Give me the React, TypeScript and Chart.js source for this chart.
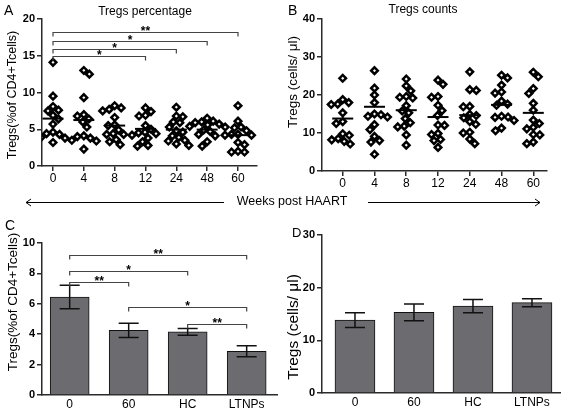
import React, { useEffect, useRef } from 'react';
import { Chart, registerables } from 'chart.js';
Chart.register(...registerables);

const FONT = "'Liberation Sans', Arial, sans-serif";
Chart.defaults.font.family = FONT;

// ---------- data ----------
const weekLabels = ['0', '4', '8', '12', '24', '48', '60'];

const pctW0 = [14.1, 9.5, 8.1, 7.6, 7.5, 6.9, 6.4, 5.7, 4.6, 4.4, 4.3, 3.9, 3.8, 3.2];
const pctW4 = [13.0, 12.5, 9.3, 7.0, 6.8, 6.4, 6.0, 5.3, 4.1, 4.0, 3.8, 3.5, 3.4, 2.3];
const pctW8 = [8.2, 7.9, 7.7, 7.5, 6.6, 5.6, 5.5, 4.9, 4.4, 4.3, 4.3, 3.6, 3.3, 2.9];
const pctW12 = [7.9, 7.4, 6.9, 6.8, 5.5, 5.0, 4.6, 4.5, 4.4, 4.2, 3.8, 3.3, 2.8, 2.7];
const pctW24 = [8.0, 6.8, 6.7, 6.0, 5.9, 5.3, 4.8, 4.6, 4.1, 3.9, 3.5, 3.4, 3.0, 2.8];
const pctW48 = [6.5, 6.1, 6.0, 5.9, 5.7, 5.6, 5.4, 5.3, 4.9, 4.7, 4.3, 4.1, 3.3, 2.7];
const pctW60 = [8.2, 6.1, 5.3, 5.2, 4.8, 4.3, 4.3, 4.2, 4.2, 3.2, 2.9, 2.0, 1.9, 1.9];
const pctMeans = [6.45, 6.25, 5.5, 5.05, 4.95, 4.95, 4.2];

const cntW0 = [24.4, 18.8, 18.0, 17.6, 17.5, 15.3, 13.0, 12.5, 9.8, 9.4, 8.5, 8.2, 7.8, 7.1];
const cntW4 = [26.4, 21.8, 20.0, 18.0, 15.0, 14.8, 14.4, 14.2, 12.2, 10.9, 9.1, 8.0, 7.6, 4.4];
const cntW8 = [24.2, 22.4, 21.1, 19.6, 19.4, 19.2, 17.2, 15.8, 15.3, 13.8, 12.7, 11.8, 11.6, 9.5, 6.8];
const cntW12 = [23.9, 22.8, 19.6, 19.4, 17.3, 15.9, 14.6, 12.1, 12.0, 9.9, 9.6, 8.3, 8.0, 6.2];
const cntW24 = [26.1, 21.4, 21.2, 17.0, 16.9, 14.9, 14.6, 14.0, 13.0, 12.3, 10.2, 10.0, 8.4, 7.2];
const cntW48 = [25.2, 24.5, 22.6, 20.8, 20.5, 18.4, 17.6, 17.3, 14.4, 14.2, 14.1, 13.3, 11.3, 10.6];
const cntW60 = [26.0, 24.8, 21.7, 20.4, 17.8, 16.0, 13.4, 12.5, 11.5, 11.1, 9.6, 9.5, 7.6, 7.2];
const cntMeans = [13.8, 16.9, 16.0, 14.2, 14.7, 17.4, 15.3];

const groupLabels = ['0', '60', 'HC', 'LTNPs'];
const pctBarMeans = [6.45, 4.25, 4.15, 2.88];
const pctBarErr = [0.77, 0.47, 0.22, 0.36];
const cntBarMeans = [13.85, 15.3, 16.5, 17.15];
const cntBarErr = [1.4, 1.6, 1.25, 0.75];

type Bracket = { from: number; to: number; y: number; label: string };
const pctSig: Bracket[] = [
  { from: 0, to: 6, y: 18.2, label: '**' },
  { from: 0, to: 5, y: 17.05, label: '*' },
  { from: 0, to: 4, y: 15.9, label: '*' },
  { from: 0, to: 3, y: 14.9, label: '*' },
];
const barSig: Bracket[] = [
  { from: 0, to: 3, y: 9.2, label: '**' },
  { from: 0, to: 2, y: 8.18, label: '*' },
  { from: 0, to: 1, y: 7.45, label: '**' },
  { from: 1, to: 3, y: 5.8, label: '*' },
  { from: 2, to: 3, y: 4.65, label: '**' },
];

const pctGroups = [pctW0, pctW4, pctW8, pctW12, pctW24, pctW48, pctW60];
const cntGroups = [cntW0, cntW4, cntW8, cntW12, cntW24, cntW48, cntW60];

// ---------- helpers ----------
const AXIS = '#2a2a2a';

const makeBracketPlugin = (items: Bracket[]) => ({
  id: 'sigBrackets',
  afterDatasetsDraw(chart: any) {
    const { ctx } = chart;
    const xs = chart.scales.x;
    const ys = chart.scales.y;
    ctx.save();
    ctx.strokeStyle = '#444';
    ctx.lineWidth = 1.2;
    ctx.fillStyle = '#000';
    ctx.font = `bold 12px ${FONT}`;
    ctx.textAlign = 'center';
    ctx.textBaseline = 'alphabetic';
    items.forEach((b) => {
      const x1 = xs.getPixelForValue(b.from);
      const x2 = xs.getPixelForValue(b.to);
      const y = Math.round(ys.getPixelForValue(b.y)) + 0.5;
      ctx.beginPath();
      ctx.moveTo(x1, y + 4);
      ctx.lineTo(x1, y);
      ctx.lineTo(x2, y);
      ctx.lineTo(x2, y + 4);
      ctx.stroke();
      ctx.fillText(b.label, (x1 + x2) / 2, y + 2);
    });
    ctx.restore();
  },
});

const makeErrorPlugin = (means: number[], errs: number[]) => ({
  id: 'errBars',
  afterDatasetsDraw(chart: any) {
    const { ctx } = chart;
    const xs = chart.scales.x;
    const ys = chart.scales.y;
    ctx.save();
    ctx.strokeStyle = '#111';
    ctx.lineWidth = 1.5;
    means.forEach((m, i) => {
      const x = xs.getPixelForValue(i);
      const yt = ys.getPixelForValue(m + errs[i]);
      const yb = ys.getPixelForValue(m - errs[i]);
      ctx.beginPath();
      ctx.moveTo(x, yt);
      ctx.lineTo(x, yb);
      ctx.moveTo(x - 10, yt);
      ctx.lineTo(x + 10, yt);
      ctx.moveTo(x - 10, yb);
      ctx.lineTo(x + 10, yb);
      ctx.stroke();
    });
    ctx.restore();
  },
});

// simple beeswarm layout: horizontal pixel offsets so markers do not overlap
const swarm = (ypx: number[], minDist: number): number[] => {
  const placed: { x: number; y: number }[] = [];
  let side = 1;
  return ypx.map((y) => {
    let best = 0;
    for (let step = 0; step < 400; step++) {
      const k = Math.ceil(step / 2) * 0.5;
      const cand = step === 0 ? 0 : (step % 2 ? k : -k) * side;
      if (placed.every((p) => Math.hypot(p.x - cand, p.y - y) >= minDist)) {
        best = cand;
        break;
      }
    }
    if (best !== 0) side = -side;
    placed.push({ x: best, y });
    return best;
  });
};

const axisGrid = { drawOnChartArea: false, drawTicks: true, tickLength: 5, color: AXIS, lineWidth: 1.5 };
const axisBorder = { color: AXIS, width: 1.5 };

function scatterChart(
  canvas: HTMLCanvasElement,
  groups: number[][],
  means: number[],
  xmin: number,
  xmax: number,
  ymax: number,
  ystep: number,
  padRight: number,
  xHeight: number,
  brackets: Bracket[] | null
) {
  const chart = new Chart(canvas, {
    type: 'scatter',
    data: {
      datasets: [
        {
          data: means.map((m, i) => ({ x: i, y: m })),
          pointStyle: 'line',
          pointRadius: 10.5,
          borderColor: '#000',
          backgroundColor: '#000',
          borderWidth: 2,
        } as any,
        {
          data: groups.flatMap((g, i) => g.map((v) => ({ x: i, y: v }))),
          pointStyle: 'rectRot',
          pointRadius: 3.3,
          borderColor: '#000',
          backgroundColor: '#fff',
          borderWidth: 2.5,
        } as any,
      ],
    },
    options: {
      responsive: false,
      animation: false,
      events: [],
      layout: { padding: { top: 19, right: padRight, left: 0, bottom: 0 } },
      plugins: { legend: { display: false }, tooltip: { enabled: false } },
      scales: {
        x: {
          type: 'linear',
          min: xmin,
          max: xmax,
          afterBuildTicks: (s: any) => {
            s.ticks = weekLabels.map((_, i) => ({ value: i }));
          },
          afterFit: (s: any) => {
            s.height = xHeight;
          },
          ticks: {
            callback: (v: any) => weekLabels[v] ?? '',
            font: { size: 12 },
            color: '#000',
            padding: 0,
            maxRotation: 0,
            autoSkip: false,
          },
          grid: axisGrid,
          border: axisBorder,
        },
        y: {
          min: 0,
          max: ymax,
          afterFit: (s: any) => {
            s.width = 42;
          },
          ticks: { stepSize: ystep, font: { size: 11, weight: 'bold' }, color: '#000', padding: 2 },
          grid: axisGrid,
          border: axisBorder,
        },
      },
    } as any,
    plugins: brackets ? [makeBracketPlugin(brackets)] : [],
  });
  const xs: any = chart.scales.x;
  const ys: any = chart.scales.y;
  const pxPerX = xs.getPixelForValue(1) - xs.getPixelForValue(0);
  const pts: { x: number; y: number }[] = [];
  groups.forEach((g, i) => {
    const offs = swarm(
      g.map((v) => ys.getPixelForValue(v)),
      6.5
    );
    g.forEach((v, k) => pts.push({ x: i + offs[k] / pxPerX, y: v }));
  });
  (chart.data.datasets[1] as any).data = pts;
  chart.update('none');
  return chart;
}

function barChart(
  canvas: HTMLCanvasElement,
  means: number[],
  errs: number[],
  xmin: number,
  xmax: number,
  ymax: number,
  ystep: number,
  padTop: number,
  padRight: number,
  xHeight: number,
  thickness: number,
  brackets: Bracket[] | null
) {
  const plugins: any[] = [makeErrorPlugin(means, errs)];
  if (brackets) plugins.push(makeBracketPlugin(brackets));
  return new Chart(canvas, {
    type: 'bar',
    data: {
      datasets: [
        {
          data: means.map((m, i) => ({ x: i, y: m })),
          backgroundColor: '#6c6c70',
          borderColor: '#111',
          borderWidth: 1,
          barThickness: thickness,
        } as any,
      ],
    },
    options: {
      responsive: false,
      animation: false,
      events: [],
      layout: { padding: { top: padTop, right: padRight, left: 0, bottom: 0 } },
      plugins: { legend: { display: false }, tooltip: { enabled: false } },
      scales: {
        x: {
          type: 'linear',
          min: xmin,
          max: xmax,
          offset: false,
          afterBuildTicks: (s: any) => {
            s.ticks = groupLabels.map((_, i) => ({ value: i }));
          },
          afterFit: (s: any) => {
            s.height = xHeight;
          },
          ticks: {
            callback: (v: any) => groupLabels[v] ?? '',
            font: { size: 12 },
            color: '#000',
            padding: 2,
            maxRotation: 0,
            autoSkip: false,
          },
          grid: { display: false, drawTicks: false },
          border: axisBorder,
        },
        y: {
          min: 0,
          max: ymax,
          afterFit: (s: any) => {
            s.width = 42;
          },
          ticks: { stepSize: ystep, font: { size: 11, weight: 'bold' }, color: '#000', padding: 2 },
          grid: axisGrid,
          border: axisBorder,
        },
      },
    } as any,
    plugins,
  });
}

const txt = (s: React.CSSProperties): React.CSSProperties => ({
  position: 'absolute',
  fontFamily: FONT,
  color: '#000',
  whiteSpace: 'nowrap',
  lineHeight: 1,
  ...s,
});

const yTitle = (cx: number, cy: number, size: number): React.CSSProperties =>
  txt({ left: cx, top: cy, fontSize: size, transform: 'translate(-50%,-50%) rotate(-90deg)' });

export default function App() {
  const aRef = useRef<HTMLCanvasElement>(null);
  const bRef = useRef<HTMLCanvasElement>(null);
  const cRef = useRef<HTMLCanvasElement>(null);
  const dRef = useRef<HTMLCanvasElement>(null);

  useEffect(() => {
    const charts = [
      scatterChart(aRef.current!, pctGroups, pctMeans, -0.357, 6.616, 20, 5, 23, 34, pctSig),
      scatterChart(bRef.current!, cntGroups, cntMeans, -0.652, 6.431, 40, 10, 16, 29, null),
      barChart(cRef.current!, pctBarMeans, pctBarErr, -0.469, 3.514, 10, 2, 33, 3, 18, 39, barSig),
      barChart(dRef.current!, cntBarMeans, cntBarErr, -0.559, 3.475, 30, 10, 25, 3, 20, 40, null),
    ];
    return () => charts.forEach((c) => c.destroy());
  }, []);

  const cv = (left: number, top: number): React.CSSProperties => ({ position: 'absolute', left, top });

  return (
    <div style={{ position: 'absolute', left: 0, top: 0, width: 563, height: 413, background: '#fff', overflow: 'hidden' }}>
      <canvas ref={aRef} width={280} height={200} style={cv(0, 0)} />
      <canvas ref={bRef} width={283} height={200} style={cv(280, 0)} />
      <canvas ref={cRef} width={280} height={203} style={cv(0, 210)} />
      <canvas ref={dRef} width={283} height={203} style={cv(280, 210)} />

      <div style={txt({ left: 4, top: 3, fontSize: 14 })}>A</div>
      <div style={txt({ left: 288, top: 3, fontSize: 14 })}>B</div>
      <div style={txt({ left: 5, top: 218, fontSize: 14 })}>C</div>
      <div style={txt({ left: 292, top: 226, fontSize: 13 })}>D</div>

      <div style={txt({ left: 145, top: 11, fontSize: 12, transform: 'translate(-50%,-50%)' })}>Tregs percentage</div>
      <div style={txt({ left: 423, top: 9, fontSize: 12, transform: 'translate(-50%,-50%)' })}>Tregs counts</div>

      <div style={yTitle(12, 95, 12.5)}>Tregs(%of CD4+Tcells)</div>
      <div style={yTitle(293, 82, 13.5)}>Tregs (cells/ μl)</div>
      <div style={yTitle(13, 302, 13.5)}>Tregs(%of CD4+Tcells)</div>
      <div style={yTitle(293, 327, 15.5)}>Tregs (cells/ μl)</div>

      <div style={txt({ left: 292, top: 201, fontSize: 12.5, transform: 'translate(-50%,-50%)' })}>Weeks post HAART</div>
      <svg width={563} height={413} style={{ position: 'absolute', left: 0, top: 0, pointerEvents: 'none' }}>
        <g stroke="#000" strokeWidth={1} fill="none">
          <line x1={26} y1={202.5} x2={224} y2={202.5} />
          <polyline points="31,199 26,202.5 31,206" />
          <line x1={368} y1={202.5} x2={540} y2={202.5} />
          <polyline points="535,199 540,202.5 535,206" />
        </g>
      </svg>
    </div>
  );
}
